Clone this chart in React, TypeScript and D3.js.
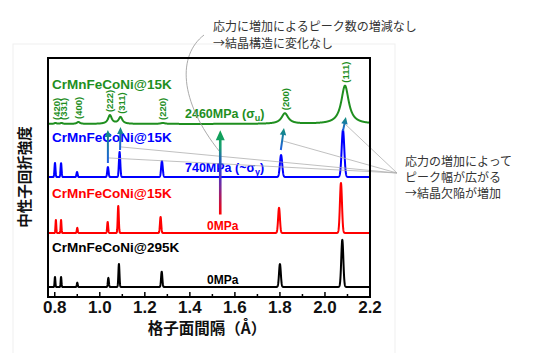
import React from 'react'
import * as d3 from 'd3'

// Reflection names, in order of the peaks below
const reflections = ['(420)', '(331)', '(400)', '(222)', '(311)', '(220)', '(200)', '(111)']

// Peak positions (Å)
const pos295K = [0.801, 0.828, 0.9, 1.038, 1.085, 1.275, 1.8, 2.077]
const pos15K = [0.805, 0.828, 0.9, 1.035, 1.082, 1.27, 1.796, 2.071]
const pos740 = [0.801, 0.828, 0.899, 1.036, 1.088, 1.276, 1.805, 2.08]
const pos2460 = [0.803, 0.83, 0.905, 1.045, 1.092, 1.28, 1.822, 2.089]

// Peak heights (arb. units) above each baseline
const h295K = [4.2, 4.2, 1.8, 3.8, 9.6, 6.4, 9.6, 19.7]
const h15K = [5.4, 5.4, 2.1, 4.6, 11.3, 6.7, 10.5, 20.9]
const h740 = [5.9, 5.8, 2.1, 4.2, 10.5, 6.7, 9.2, 19.7]
const h2460 = [0.4, 0.4, 0.8, 3.6, 2.8, 0.4, 4.4, 16.0]

// Half widths of the broad peaks at 2460MPa (Å)
const hw2460 = [0.006, 0.006, 0.008, 0.01, 0.01, 0.012, 0.018, 0.02]

// Stacking offsets of the four patterns (bottom to top)
const patternOffsets = [4.2, 26.8, 50.2, 72.4]
const patternNames = ['CrMnFeCoNi@295K', 'CrMnFeCoNi@15K', 'CrMnFeCoNi@15K', 'CrMnFeCoNi@15K']
const stressNames = ['0MPa', '0MPa', '740MPa', '2460MPa']

// Arrows: from the 740MPa peak to the 2460MPa peak
const shiftFromD = [1.036, 1.09, 1.804, 2.08]
const shiftFromY = [56.1, 61.5, 61.5, 69.5]
const shiftToD = [1.036, 1.092, 1.818, 2.093]
const shiftToY = [69.9, 71.1, 70.7, 75.3]

// Stress arrow (0MPa -> 2460MPa)
const stressArrowD = 1.535
const stressArrowY = [34.5, 69.8]

// Callout line targets
const calloutD = [1.036, 1.093, 1.813, 2.089]
const calloutY = [58.2, 62.8, 65.3, 72.4]

const xTicks = d3.range(8, 23).map(i => i / 10)

const W = 536
const H = 353
const frame = { left: 48, right: 370, top: 58, bottom: 297 }
const latin = '"Liberation Sans", Arial, sans-serif'
const cjk = '"Noto Sans CJK JP", sans-serif'
const colors = ['#000000', '#ff0000', '#0000ff', '#1f8f1f']
const green = '#1f8f1f'

const gauss = (pos: number[], h: number[], rel: number) => (d: number) =>
  d3.sum(pos, (p, i) => h[i] * Math.exp(-0.5 * ((d - p) / (rel * p)) ** 2))
const lorentz = (pos: number[], h: number[], hw: number[]) => (d: number) =>
  d3.sum(pos, (p, i) => h[i] / (1 + ((d - p) / hw[i]) ** 2))

// polygon arrow (shaft + head) so gradients work on vertical arrows
const arrowPath = (x1: number, y1: number, x2: number, y2: number, shaft: number, headW: number, headL: number) => {
  const len = Math.hypot(x2 - x1, y2 - y1)
  const ux = (x2 - x1) / len
  const uy = (y2 - y1) / len
  const nx = -uy
  const ny = ux
  const bx = x2 - ux * headL
  const by = y2 - uy * headL
  const s = shaft / 2
  const hw = headW / 2
  const pts = [
    [x1 + nx * s, y1 + ny * s],
    [bx + nx * s, by + ny * s],
    [bx + nx * hw, by + ny * hw],
    [x2, y2],
    [bx - nx * hw, by - ny * hw],
    [bx - nx * s, by - ny * s],
    [x1 - nx * s, y1 - ny * s],
  ]
  return 'M' + pts.map(p => p.map(v => v.toFixed(2)).join(',')).join('L') + 'Z'
}

const App: React.FC = () => {
  const x = d3.scaleLinear().domain([0.77, 2.2]).range([frame.left, frame.right])
  const y = d3.scaleLinear().domain([0, 100]).range([frame.bottom, frame.top])

  const grid = d3.range(0.77, 2.2001, 0.0005)
  const profiles = [
    gauss(pos295K, h295K, 0.0022),
    gauss(pos15K, h15K, 0.0022),
    gauss(pos740, h740, 0.0028),
    lorentz(pos2460, h2460, hw2460),
  ]
  const paths = profiles.map((f, k) =>
    d3.line<number>()
      .x(d => x(d))
      .y(d => y(patternOffsets[k] + f(d)))(grid) as string
  )

  // label rows (pixel baselines relative to pattern baselines)
  const nameY = patternOffsets.map(o => y(o) - 35)
  const stressX = [207, 207, 185, 185]
  const stressY = [y(patternOffsets[0]) - 3, y(patternOffsets[1]) - 3, y(patternOffsets[2]) - 5, y(patternOffsets[3]) - 6]

  const greenTop = profiles[3]
  const anchor = [397, 173]

  return (
    <svg width={W} height={H} style={{ position: 'absolute', left: 0, top: 0, background: '#fff' }}>
      <defs>
        <clipPath id="plot">
          <rect x={frame.left} y={frame.top} width={frame.right - frame.left} height={frame.bottom - frame.top} />
        </clipPath>
        <linearGradient id="shiftGrad" x1="0" y1="1" x2="0" y2="0">
          <stop offset="0" stopColor="#1f5fe0" />
          <stop offset="1" stopColor="#12907a" />
        </linearGradient>
        <linearGradient id="stressGrad" x1="0" y1="1" x2="0" y2="0">
          <stop offset="0" stopColor="#ff0000" />
          <stop offset="0.33" stopColor="#7a2a9a" />
          <stop offset="0.55" stopColor="#2a3ae0" />
          <stop offset="0.8" stopColor="#17a070" />
          <stop offset="1" stopColor="#10a050" />
        </linearGradient>
      </defs>

      {/* faint image border */}
      <rect x={13} y={44} width={382} height={320} fill="none" stroke="#efefef" strokeWidth={1} />

      {/* patterns */}
      <g clipPath="url(#plot)">
        {paths.map((p, k) => (
          <path key={k} d={p} fill="none" stroke={colors[k]} strokeWidth={2} strokeLinejoin="round" />
        ))}
      </g>

      {/* hkl labels on the top pattern */}
      {reflections.map((r, i) => {
        const lx = x(pos2460[i]) + [1, 2.5, 0, 0, 1.5, 0, 1, 1][i]
        const top = Math.min(y(patternOffsets[3] + greenTop(pos2460[i])) - 3, y(patternOffsets[3]) - 4)
        return (
          <text key={r} transform={`translate(${lx},${top}) rotate(-90)`} dy="0.35em"
            fontFamily={latin} fontSize={9.5} fontWeight="bold" fill={green}>{r}</text>
        )
      })}

      {/* pattern names and stress labels */}
      {patternNames.map((n, k) => (
        <text key={'n' + k} x={52} y={nameY[k]} fontFamily={latin} fontSize={13.5} fontWeight="bold" fill={colors[k]}>{n}</text>
      ))}
      <text x={stressX[0]} y={stressY[0]} fontFamily={latin} fontSize={12} fontWeight="bold" fill={colors[0]}>{stressNames[0]}</text>
      <text x={stressX[1]} y={stressY[1]} fontFamily={latin} fontSize={12} fontWeight="bold" fill={colors[1]}>{stressNames[1]}</text>
      <text x={stressX[2]} y={stressY[2]} fontFamily={latin} fontSize={12.5} fontWeight="bold" fill={colors[2]}>
        {stressNames[2]} (~σ<tspan dy={3} fontSize={9}>y</tspan><tspan dy={-3}>)</tspan>
      </text>
      <text x={stressX[3]} y={stressY[3]} fontFamily={latin} fontSize={12.5} fontWeight="bold" fill={colors[3]}>
        {stressNames[3]} (σ<tspan dy={3} fontSize={9}>u</tspan><tspan dy={-3}>)</tspan>
      </text>

      {/* callout lines */}
      {calloutD.map((d, i) => (
        <line key={'c' + i} x1={anchor[0]} y1={anchor[1]} x2={x(d)} y2={y(calloutY[i])} stroke="#b0b0b0" strokeWidth={0.8} />
      ))}
      <path d={`M204,35 C178,55 178,100 ${x(stressArrowD)},${y(60.5)}`} fill="none" stroke="#a0a0a0" strokeWidth={0.9} />

      {/* arrows */}
      {shiftFromD.map((d, i) => (
        <path key={'a' + i}
          d={arrowPath(x(d), y(shiftFromY[i]), x(shiftToD[i]), y(shiftToY[i]), 2, 6.5, 7)}
          fill="url(#shiftGrad)" />
      ))}
      <path d={arrowPath(x(stressArrowD), y(stressArrowY[0]), x(stressArrowD), y(stressArrowY[1]), 2.6, 9, 10)}
        fill="url(#stressGrad)" />

      {/* frame */}
      <rect x={frame.left} y={frame.top} width={frame.right - frame.left} height={frame.bottom - frame.top}
        fill="none" stroke="#000" strokeWidth={2} />

      {/* x ticks (inward) and labels */}
      {xTicks.map((t, i) => {
        const major = i % 2 === 0
        return (
          <g key={'t' + i}>
            <line x1={x(t)} x2={x(t)} y1={frame.bottom} y2={frame.bottom - (major ? 5 : 3)} stroke="#000" strokeWidth={1.5} />
            {major && (
              <text x={x(t)} y={313} textAnchor="middle" fontFamily={latin} fontSize={17} fontWeight="bold" fill="#111">
                {t.toFixed(1)}
              </text>
            )}
          </g>
        )
      })}

      {/* axis titles */}
      <text x={207} y={334} textAnchor="middle" fontFamily={cjk} fontSize={15.5} fontWeight="bold" fill="#111">格子面間隔（Å）</text>
      <text transform="translate(25,177) rotate(-90)" textAnchor="middle" dy="0.35em" fontFamily={cjk} fontSize={14.5} fontWeight="bold" fill="#111">中性子回折強度</text>

      {/* annotations */}
      <text x={213} y={31} fontFamily={cjk} fontSize={12} fill="#333">応力に増加によるピーク数の増減なし</text>
      <text x={213} y={48} fontFamily={cjk} fontSize={12} fill="#333">→結晶構造に変化なし</text>
      <text fontFamily={cjk} fontSize={12} fill="#333">
        <tspan x={405} y={166}>応力の増加によって</tspan>
        <tspan x={405} y={182}>ピーク幅が広がる</tspan>
        <tspan x={405} y={198}>→結晶欠陥が増加</tspan>
      </text>
    </svg>
  )
}

export default App
